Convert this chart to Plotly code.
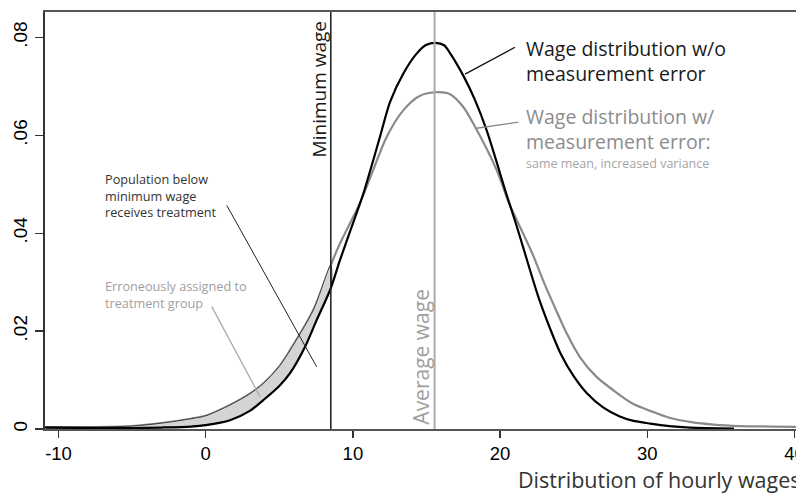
import plotly.graph_objects as go

# ---- data ----
x_black = [-10.9, -8, -5, -3, -1, 0, 1.65, 3, 3.91, 5, 5.73, 6.75, 7.5, 8.5, 9.12, 10, 10.71,
           11.84, 12.52, 13.42, 14.33, 15, 15.6, 16.2, 16.6, 17.5, 18.3, 19.09, 20.45, 21.0,
           21.6, 22.6, 23.4, 24.1, 25.0, 25.9, 27, 28.1, 29, 30.2, 31.5, 32.9, 35.9]
y_black = [0.0003, 0.0002, 0.0002, 0.0003, 0.0005, 0.0008, 0.0018, 0.0037, 0.0059, 0.0088, 0.0114,
           0.0168, 0.0220, 0.0288, 0.0345, 0.0420, 0.0481, 0.0597, 0.0668, 0.0726, 0.0767, 0.0785,
           0.0789, 0.0784, 0.0768, 0.0722, 0.0672, 0.0610, 0.0478, 0.0427, 0.0368, 0.0270, 0.0205,
           0.0155, 0.0108, 0.0073, 0.0044, 0.0026, 0.0017, 0.0011, 0.0006, 0.0003, 0.0001]

x_gray = [-10.9, -8, -5, -3, -1, 0, 1.65, 3, 3.91, 5, 5.73, 7.31, 8.5, 9.12, 10.48, 11.16, 12.3,
          13.42, 14.5, 15.6, 16.6, 17.5, 18.18, 19.77, 20.56, 21.4, 22.2, 23.0, 23.8, 24.5, 25.4,
          26.5, 27.7, 29.0, 30.2, 31.5, 33.0, 34.5, 36.3, 38.5, 40.65]
y_gray = [0.0004, 0.0004, 0.0006, 0.0012, 0.0021, 0.0027, 0.0049, 0.0072, 0.0093, 0.0128, 0.0161,
          0.0243, 0.0335, 0.0379, 0.0462, 0.0512, 0.0597, 0.0651, 0.0680, 0.0688, 0.0684, 0.0658,
          0.0624, 0.0529, 0.0465, 0.0410, 0.0358, 0.0298, 0.0243, 0.0197, 0.0148, 0.0108, 0.0079,
          0.0052, 0.0037, 0.0023, 0.0014, 0.0009, 0.0006, 0.0005, 0.0004]

min_wage = 8.5
avg_wage = 15.55

x_ticks = [-10, 0, 10, 20, 30, 40]
x_tick_text = ["-10", "0", "10", "20", "30", "40"]
y_ticks = [0, 0.02, 0.04, 0.06, 0.08]
y_tick_text = ["0", ".02", ".04", ".06", ".08"]

# ---- shaded area between the two curves below the minimum wage ----
gx = [x for x in x_gray if x <= min_wage]
gy = [y for x, y in zip(x_gray, y_gray) if x <= min_wage]
bx = [x for x in x_black if x <= min_wage]
by = [y for x, y in zip(x_black, y_black) if x <= min_wage]
poly_x = gx + bx[::-1]
poly_y = gy + by[::-1]

SPL = dict(shape="spline", smoothing=0.8)

fig = go.Figure()
fig.add_trace(go.Scatter(x=x_gray, y=y_gray, mode="lines",
                         line=dict(color="#8a8a8a", width=2.2, **SPL), hoverinfo="skip"))
fig.add_trace(go.Scatter(x=poly_x, y=poly_y, mode="lines", fill="toself",
                         fillcolor="#d4d4d4", line=dict(color="#3a3a3a", width=1, **SPL),
                         hoverinfo="skip"))
fig.add_trace(go.Scatter(x=x_black, y=y_black, mode="lines",
                         line=dict(color="#000000", width=2.2, **SPL), hoverinfo="skip"))

# vertical reference lines
fig.add_shape(type="line", x0=min_wage, x1=min_wage, y0=0, y1=1, yref="paper",
              line=dict(color="#1a1a1a", width=1.5))
fig.add_shape(type="line", x0=avg_wage, x1=avg_wage, y0=0, y1=1, yref="paper",
              line=dict(color="#aaaaaa", width=2))

# leader lines
fig.add_shape(type="line", x0=17.62, y0=0.0725, x1=21.01, y1=0.0780,
              line=dict(color="#111111", width=1.3))
fig.add_shape(type="line", x0=18.29, y0=0.0614, x1=21.24, y1=0.0627,
              line=dict(color="#888888", width=1.3))
fig.add_shape(type="line", x0=1.43, y0=0.0457, x1=7.54, y1=0.0127,
              line=dict(color="#222222", width=1))
fig.add_shape(type="line", x0=0.41, y0=0.0250, x1=3.69, y1=0.0066,
              line=dict(color="#aaaaaa", width=1.3))

FONT = "Open Sans"

def note(text, x, y, size, color, xanchor="left", angle=0, yanchor="middle"):
    fig.add_annotation(text=text, x=x, y=y, xref="x", yref="y", showarrow=False,
                       xanchor=xanchor, yanchor=yanchor, textangle=angle, align="left",
                       font=dict(family=FONT, size=size, color=color))

note("Wage distribution w/o<br>measurement error", 21.62, 0.0752, 19.5, "#1a1a1a")
note("Wage distribution w/<br>measurement error:", 21.62, 0.0612, 19.5, "#8c8c8c")
note("same mean, increased variance", 21.62, 0.0542, 12.5, "#a5a5a5")

note("Population below<br>minimum wage<br>receives treatment", -6.96, 0.0478, 12.7, "#333333")
note("Erroneously assigned to<br>treatment group", -6.96, 0.02755, 12.7, "#a0a0a0")

note("Minimum wage", 7.70, 0.0694, 19, "#1a1a1a", xanchor="center", angle=-90)
note("Average wage", 14.6, 0.0147, 21, "#a0a0a0", xanchor="center", angle=-90)

fig.add_annotation(text="Distribution of hourly wages", xref="paper", yref="paper",
                   x=0.9987, y=-0.121, xanchor="right", yanchor="middle", showarrow=False,
                   font=dict(family=FONT, size=21.5, color="#333333"))

fig.update_layout(
    width=804, height=493,
    margin=dict(l=37, r=8, t=4, b=72, autoexpand=False),
    paper_bgcolor="white", plot_bgcolor="white",
    showlegend=False, hovermode=False,
    xaxis=dict(range=[-10.92, 40.65], tickvals=x_ticks, ticktext=x_tick_text,
               automargin=False,
               showgrid=False, zeroline=False, showline=True, mirror=True,
               linecolor="#555555", linewidth=2, ticks="outside", ticklen=7,
               tickcolor="#333333", tickwidth=1.3,
               tickfont=dict(family="Liberation Sans", size=18.5, color="#000000")),
    yaxis=dict(range=[0, 0.0852], tickvals=y_ticks, ticktext=y_tick_text,
               automargin=False,
               showgrid=False, zeroline=False, showline=True,
               linecolor="#333333", linewidth=2, ticks="outside", ticklen=8,
               tickcolor="#333333", tickwidth=1.3, tickangle=-90,
               tickfont=dict(family="Liberation Sans", size=19, color="#000000")),
)

fig.write_html("out.html", config={"staticPlot": True, "displayModeBar": False})
